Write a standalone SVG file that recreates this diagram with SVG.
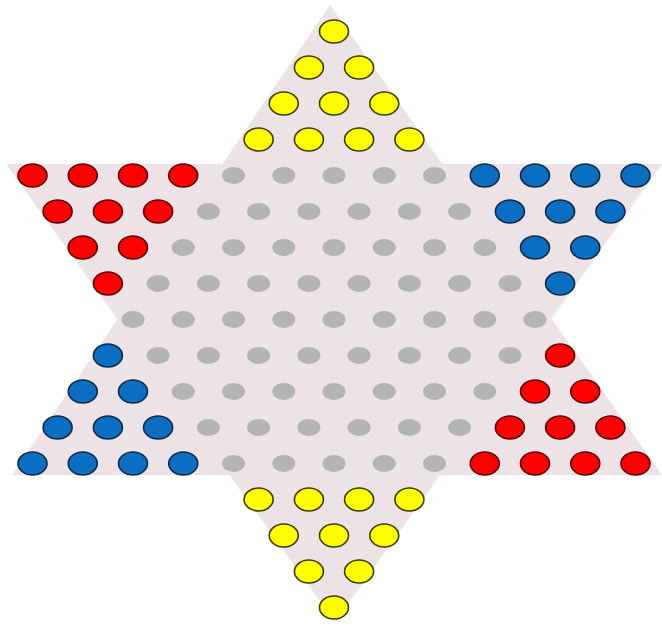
<svg xmlns="http://www.w3.org/2000/svg" width="662" height="626" viewBox="0 0 662 626">
<style>
.star{fill:#ede3e6}
.y{fill:#ffff00;stroke:#3d3a00;stroke-width:1.6}
.r{fill:#ff0000;stroke:#5a0000;stroke-width:1.6}
.b{fill:#0a6fc2;stroke:#102a45;stroke-width:1.6}
.g{fill:#b4b4b4}
</style>
<defs>
<ellipse id="p" rx="14.5" ry="11.5"/>
<ellipse id="h" rx="11.5" ry="8.5"/>
</defs>
<rect width="662" height="626" fill="#ffffff"/>
<g id="board">
<polygon class="star" points="330,5 12,475 662,475"/>
<polygon class="star" points="6,164 662,164 335,622"/>
</g>
<g id="holes" class="g">
<use href="#h" x="233.5" y="175.5"/><use href="#h" x="283.75" y="175.5"/><use href="#h" x="334" y="175.5"/><use href="#h" x="384.25" y="175.5"/><use href="#h" x="434.5" y="175.5"/>
<use href="#h" x="208.4" y="211.5"/><use href="#h" x="258.6" y="211.5"/><use href="#h" x="308.9" y="211.5"/><use href="#h" x="359.1" y="211.5"/><use href="#h" x="409.4" y="211.5"/><use href="#h" x="459.6" y="211.5"/>
<use href="#h" x="183.25" y="247.5"/><use href="#h" x="233.5" y="247.5"/><use href="#h" x="283.75" y="247.5"/><use href="#h" x="334" y="247.5"/><use href="#h" x="384.25" y="247.5"/><use href="#h" x="434.5" y="247.5"/><use href="#h" x="484.75" y="247.5"/>
<use href="#h" x="158.1" y="283.5"/><use href="#h" x="208.4" y="283.5"/><use href="#h" x="258.6" y="283.5"/><use href="#h" x="308.9" y="283.5"/><use href="#h" x="359.1" y="283.5"/><use href="#h" x="409.4" y="283.5"/><use href="#h" x="459.6" y="283.5"/><use href="#h" x="509.9" y="283.5"/>
<use href="#h" x="133" y="319.5"/><use href="#h" x="183.25" y="319.5"/><use href="#h" x="233.5" y="319.5"/><use href="#h" x="283.75" y="319.5"/><use href="#h" x="334" y="319.5"/><use href="#h" x="384.25" y="319.5"/><use href="#h" x="434.5" y="319.5"/><use href="#h" x="484.75" y="319.5"/><use href="#h" x="535" y="319.5"/>
<use href="#h" x="158.1" y="355.5"/><use href="#h" x="208.4" y="355.5"/><use href="#h" x="258.6" y="355.5"/><use href="#h" x="308.9" y="355.5"/><use href="#h" x="359.1" y="355.5"/><use href="#h" x="409.4" y="355.5"/><use href="#h" x="459.6" y="355.5"/><use href="#h" x="509.9" y="355.5"/>
<use href="#h" x="183.25" y="391.5"/><use href="#h" x="233.5" y="391.5"/><use href="#h" x="283.75" y="391.5"/><use href="#h" x="334" y="391.5"/><use href="#h" x="384.25" y="391.5"/><use href="#h" x="434.5" y="391.5"/><use href="#h" x="484.75" y="391.5"/>
<use href="#h" x="208.4" y="427.5"/><use href="#h" x="258.6" y="427.5"/><use href="#h" x="308.9" y="427.5"/><use href="#h" x="359.1" y="427.5"/><use href="#h" x="409.4" y="427.5"/><use href="#h" x="459.6" y="427.5"/>
<use href="#h" x="233.5" y="463.5"/><use href="#h" x="283.75" y="463.5"/><use href="#h" x="334" y="463.5"/><use href="#h" x="384.25" y="463.5"/><use href="#h" x="434.5" y="463.5"/>
</g>
<g id="yellow-top" class="y">
<use href="#p" x="334" y="31.5"/>
<use href="#p" x="308.9" y="67.5"/><use href="#p" x="359.1" y="67.5"/>
<use href="#p" x="283.75" y="103.5"/><use href="#p" x="334" y="103.5"/><use href="#p" x="384.25" y="103.5"/>
<use href="#p" x="258.6" y="139.5"/><use href="#p" x="308.9" y="139.5"/><use href="#p" x="359.1" y="139.5"/><use href="#p" x="409.4" y="139.5"/>
</g>
<g id="red-left" class="r">
<use href="#p" x="32.5" y="175.5"/><use href="#p" x="82.75" y="175.5"/><use href="#p" x="133" y="175.5"/><use href="#p" x="183.25" y="175.5"/>
<use href="#p" x="57.6" y="211.5"/><use href="#p" x="107.9" y="211.5"/><use href="#p" x="158.1" y="211.5"/>
<use href="#p" x="82.75" y="247.5"/><use href="#p" x="133" y="247.5"/>
<use href="#p" x="107.9" y="283.5"/>
</g>
<g id="blue-right" class="b">
<use href="#p" x="484.75" y="175.5"/><use href="#p" x="535" y="175.5"/><use href="#p" x="585.25" y="175.5"/><use href="#p" x="635.5" y="175.5"/>
<use href="#p" x="509.9" y="211.5"/><use href="#p" x="560.1" y="211.5"/><use href="#p" x="610.4" y="211.5"/>
<use href="#p" x="535" y="247.5"/><use href="#p" x="585.25" y="247.5"/>
<use href="#p" x="560.1" y="283.5"/>
</g>
<g id="blue-left" class="b">
<use href="#p" x="107.9" y="355.5"/>
<use href="#p" x="82.75" y="391.5"/><use href="#p" x="133" y="391.5"/>
<use href="#p" x="57.6" y="427.5"/><use href="#p" x="107.9" y="427.5"/><use href="#p" x="158.1" y="427.5"/>
<use href="#p" x="32.5" y="463.5"/><use href="#p" x="82.75" y="463.5"/><use href="#p" x="133" y="463.5"/><use href="#p" x="183.25" y="463.5"/>
</g>
<g id="red-right" class="r">
<use href="#p" x="560.1" y="355.5"/>
<use href="#p" x="535" y="391.5"/><use href="#p" x="585.25" y="391.5"/>
<use href="#p" x="509.9" y="427.5"/><use href="#p" x="560.1" y="427.5"/><use href="#p" x="610.4" y="427.5"/>
<use href="#p" x="484.75" y="463.5"/><use href="#p" x="535" y="463.5"/><use href="#p" x="585.25" y="463.5"/><use href="#p" x="635.5" y="463.5"/>
</g>
<g id="yellow-bottom" class="y">
<use href="#p" x="258.6" y="499.5"/><use href="#p" x="308.9" y="499.5"/><use href="#p" x="359.1" y="499.5"/><use href="#p" x="409.4" y="499.5"/>
<use href="#p" x="283.75" y="535.5"/><use href="#p" x="334" y="535.5"/><use href="#p" x="384.25" y="535.5"/>
<use href="#p" x="308.9" y="571.5"/><use href="#p" x="359.1" y="571.5"/>
<use href="#p" x="334" y="607.5"/>
</g>
</svg>
